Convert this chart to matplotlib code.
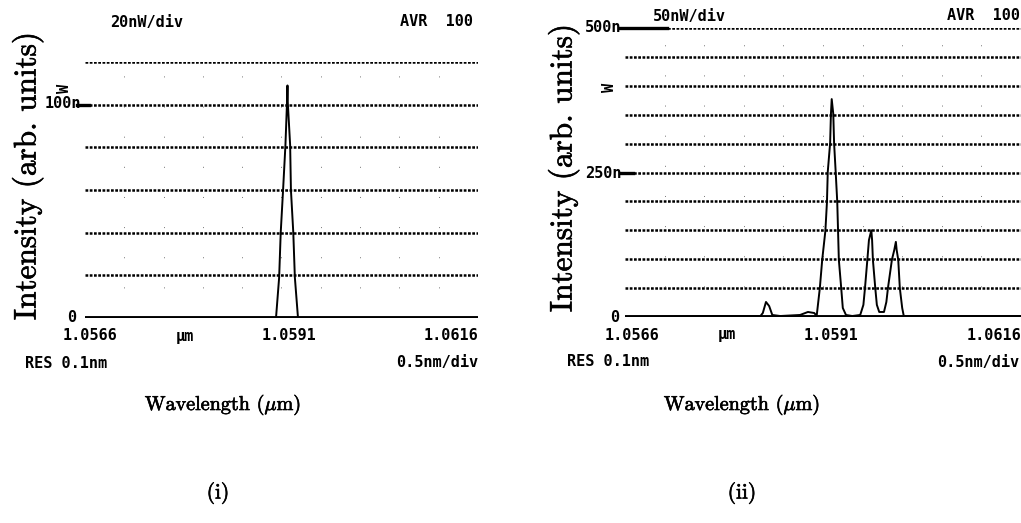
import matplotlib
matplotlib.use("Agg")
import matplotlib.pyplot as plt
import matplotlib.patheffects as pe
import numpy as np

plt.rcParams['mathtext.fontset'] = 'cm'

# ---------------- data ----------------
# panel (i): single line, intensity in nW
wl_i = [1.05660, 1.05806, 1.05903, 1.05907, 1.05909, 1.05912, 1.05915, 1.05917,
        1.059176, 1.05918, 1.05921, 1.05922, 1.05925, 1.05927, 1.05931, 1.06160]
int_i = [0, 0, 0, 19, 40, 60, 81, 101, 109, 101, 81, 60, 40, 19, 0, 0]

# panel (ii): several lines, intensity in nW
wl_ii = [1.05660, 1.05755, 1.05831, 1.05834, 1.05838, 1.05842, 1.05846, 1.05856,
         1.05881, 1.05891, 1.05899, 1.05902, 1.05906, 1.05909, 1.05913, 1.05915,
         1.05916, 1.05919, 1.05920, 1.05921, 1.05923, 1.05924, 1.05926, 1.05928,
         1.05929, 1.05930, 1.05933, 1.05935, 1.05939, 1.05947, 1.05957, 1.05961,
         1.05963, 1.05966, 1.05968, 1.05971, 1.05972, 1.05973, 1.05976, 1.05978,
         1.05981, 1.05987, 1.05990, 1.05992, 1.05997, 1.06000, 1.06002, 1.06003,
         1.06005, 1.06007, 1.06010, 1.06012, 1.06070, 1.06160]
int_ii = [0, 1.7, 1.7, 6.9, 26, 19, 3.5, 1.7,
          3.5, 8.7, 6.9, 1.7, 50, 99, 149, 199,
          251, 301, 351, 377, 351, 301, 251, 199,
          149, 99, 50, 15.6, 3.5, 1.7, 3.5, 21,
          50, 99, 133, 150, 133, 99, 50, 21,
          8.7, 8.7, 26, 50, 99, 116, 130, 116,
          99, 50, 15.6, 1.7, 1.7, 1.7]

x_range = (1.0566, 1.0616)
x_tick_labels = ["1.0566", "1.0591", "1.0616"]
grid_i = [20, 40, 60, 80, 100, 120]          # 20 nW/div
grid_ii = [50, 100, 150, 200, 250, 300, 350, 400, 450, 500]   # 50 nW/div

W, H = 1021, 523
fig = plt.figure(figsize=(W / 100, H / 100), dpi=100)


def P(x, y):
    return x / W, 1 - y / H


osa = dict(family='DejaVu Sans Mono', weight='bold', fontsize=11, color='black')
thick = [pe.withStroke(linewidth=0.45, foreground='black')]
serif = dict(family='cmr10', color='black', path_effects=thick)


def panel(left_px, zero_px, width_px, top_px, ymax, grid, wl, inten):
    ax = fig.add_axes([left_px / W, 1 - zero_px / H, width_px / W, (zero_px - top_px) / H])
    ax.set_xlim(*x_range)
    ax.set_ylim(0, ymax)
    ax.set_axis_off()
    for g in grid:
        ax.axhline(g, color='black', lw=1.8, ls=(0, (1.1, 0.6)), zorder=1)
    # sparse vertical division dots
    for v in np.linspace(x_range[0], x_range[1], 11)[1:-1]:
        ax.axvline(v, color='0.45', lw=0.7, ls=(0, (1, 30)), zorder=0)
    ax.axhline(0, color='black', lw=2.8, zorder=2)
    ax.plot(wl, inten, color='black', lw=1.4, zorder=3)
    return ax


ax1 = panel(85, 318, 393, 62, 120, grid_i, wl_i, int_i)
ax2 = panel(625, 317, 396, 28, 500, grid_ii, wl_ii, int_ii)

# label lead lines
yt1 = ax1.get_yaxis_transform()
ax1.plot([-0.02, 0.01], [100, 100], color='black', lw=2.4, transform=yt1, clip_on=False)
yt2 = ax2.get_yaxis_transform()
ax2.plot([-0.013, 0.106], [500, 500], color='black', lw=2.4, transform=yt2, clip_on=False)
ax2.plot([-0.013, 0.02], [250, 250], color='black', lw=2.4, transform=yt2, clip_on=False)

# ---------------- OSA screen texts ----------------
# panel (i)
fig.text(*P(110, 22), "20nW/div", ha='left', va='center', **osa)
fig.text(*P(400, 21), "AVR  100", ha='left', va='center', **osa)
fig.text(*P(64, 88), "W", ha='center', va='center', rotation=90, **osa)
fig.text(*P(45, 103), "100n", ha='left', va='center', **osa)
fig.text(*P(72, 318), "0", ha='center', va='center', **osa)
fig.text(*P(63, 336), x_tick_labels[0], ha='left', va='center', **osa)
fig.text(*P(185, 336), "μm", ha='center', va='center', **osa)
fig.text(*P(289, 336), x_tick_labels[1], ha='center', va='center', **osa)
fig.text(*P(478, 336), x_tick_labels[2], ha='right', va='center', **osa)
fig.text(*P(25, 364), "RES 0.1nm", ha='left', va='center', **osa)
fig.text(*P(478, 363), "0.5nm/div", ha='right', va='center', **osa)

# panel (ii)
fig.text(*P(653, 16), "50nW/div", ha='left', va='center', **osa)
fig.text(*P(947, 16), "AVR  100", ha='left', va='center', **osa)
fig.text(*P(610, 87), "W", ha='center', va='center', rotation=90, **osa)
fig.text(*P(585, 28), "500n", ha='left', va='center', **osa)
fig.text(*P(585, 173), "250n", ha='left', va='center', **osa)
fig.text(*P(615, 317), "0", ha='center', va='center', **osa)
fig.text(*P(605, 335), x_tick_labels[0], ha='left', va='center', **osa)
fig.text(*P(727, 335), "μm", ha='center', va='center', **osa)
fig.text(*P(831, 335), x_tick_labels[1], ha='center', va='center', **osa)
fig.text(*P(967, 335), x_tick_labels[2], ha='left', va='center', **osa)
fig.text(*P(567, 362), "RES 0.1nm", ha='left', va='center', **osa)
fig.text(*P(937, 362), "0.5nm/div", ha='left', va='center', **osa)

# ---------------- figure texts ----------------
fig.text(*P(28, 176), "Intensity (arb. units)", rotation=90, ha='center', va='center',
         fontsize=22.5, **serif)
fig.text(*P(564, 168), "Intensity (arb. units)", rotation=90, ha='center', va='center',
         fontsize=22.5, **serif)
fig.text(*P(223, 405), r"Wavelength ($\mu$m)", ha='center', va='center', fontsize=14.5, **serif)
fig.text(*P(742, 405), r"Wavelength ($\mu$m)", ha='center', va='center', fontsize=14.5, **serif)
fig.text(*P(218, 493), "(i)", ha='center', va='center', fontsize=15.5, **serif)
fig.text(*P(742, 493), "(ii)", ha='center', va='center', fontsize=15.5, **serif)

fig.savefig("out.png", dpi=100, facecolor='white')
